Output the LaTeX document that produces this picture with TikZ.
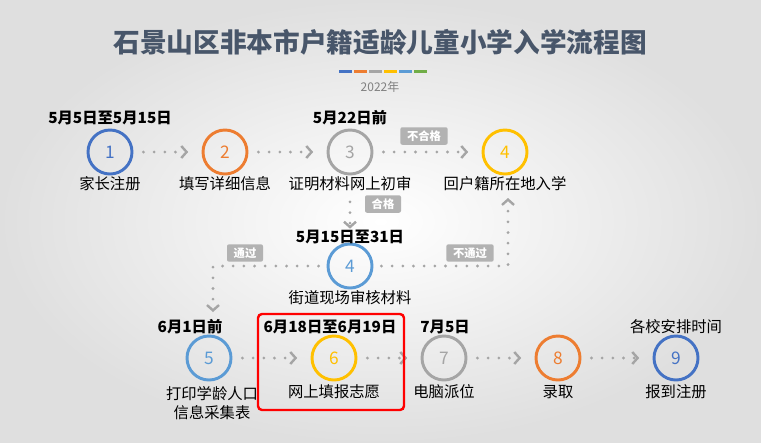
\documentclass[tikz,border=0pt]{standalone}
\usepackage{fontspec}
\setmainfont{Noto Sans CJK SC}
\usetikzlibrary{arrows.meta}
\definecolor{cblue}{RGB}{68,114,196}
\definecolor{corange}{RGB}{237,125,49}
\definecolor{cgray}{RGB}{165,165,165}
\definecolor{cyellow}{RGB}{255,192,0}
\definecolor{clblue}{RGB}{91,155,213}
\definecolor{cgreen}{RGB}{112,173,71}
\definecolor{ctitle}{RGB}{72,86,106}
\tikzset{
  step/.style={circle,draw=#1,line width=2.2pt,minimum size=33pt,inner sep=0pt,
    text=#1,font=\fontsize{13}{13}\selectfont},
  lab/.style={font=\fontsize{11.5}{14}\selectfont,align=center},
  date/.style={font=\bfseries\fontsize{11.5}{13}\selectfont},
  badge/.style={fill=cgray!85,text=white,rounded corners=1.5pt,inner xsep=5pt,inner ysep=2.5pt,
    font=\bfseries\fontsize{8.5}{9}\selectfont},
  flow/.style={cgray,line width=2.3pt,dash pattern=on 0pt off 8pt,line cap=round,
    -{Straight Barb[length=4pt,width=9pt,line width=1.8pt,line cap=butt]}}
}
\begin{document}
\begin{tikzpicture}[x=0.75pt,y=-0.75pt]
\useasboundingbox (0,0) rectangle (761,443);
\shade[inner color=white,outer color=gray!25] (0,0) rectangle (761,443);

%%%% Title
\node[text=ctitle,font=\bfseries\fontsize{20}{20}\selectfont] (title) at (380,42) {石景山区非本市户籍适龄儿童小学入学流程图};
\foreach \c [count=\i] in {cblue,corange,cgray,cyellow,clblue,cgreen}
  \fill[\c] (324+\i*15,69.5) rectangle ++(13,3);
\node[text=gray,font=\fontsize{9}{9}\selectfont] (year) at (380,87) {2022年};

%%%% First row
\node[step=cblue] (s1) at (110,152) {1};
\node[step=corange] (s2) at (225,152) {2};
\node[step=cgray] (s3) at (350,152) {3};
\node[step=cyellow] (s4) at (505,152) {4};
\node[date] at (110,118) {5月5日至5月15日};
\node[date] at (350,118) {5月22日前};
\node[lab] (l1) at (110,184) {家长注册};
\node[lab] (l2) at (225,184) {填写详细信息};
\node[lab] (l3) at (350,184) {证明材料网上初审};
\node[lab] (l4) at (505,184) {回户籍所在地入学};
\draw[flow] (s1.east) ++(10,0) -- ([xshift=-10pt]s2.west);
\draw[flow] (s2.east) ++(10,0) -- ([xshift=-10pt]s3.west);
\draw[flow] (s3.east) ++(10,0) -- ([xshift=-10pt]s4.west);
\node[badge] at (424,136) {不合格};

%%%% Street check
\node[step=clblue] (t4) at (350,266) {4};
\node[date] at (350,237) {5月15日至31日};
\node[lab] (lt4) at (350,298) {街道现场审核材料};
\draw[flow] (l3.south) ++(0,6) -- ([yshift=-2pt]350,226);
\node[badge] at (383,204) {合格};
\coordinate (cl) at (213,266);
\coordinate (cr) at (508,266);
\draw[flow] (t4.west) ++(-8,0) -- (cl) -- (213,312);
\draw[flow] (t4.east) ++(8,0) -- (cr) -- (508,198);
\node[badge] at (245,253) {通过};
\node[badge] at (470,253) {不通过};

%%%% Last row
\node[step=clblue] (s5) at (209,358) {5};
\node[step=cyellow] (s6) at (334,358) {6};
\node[step=cgray] (s7) at (444,358) {7};
\node[step=corange] (s8) at (558,358) {8};
\node[step=cblue] (s9) at (676,358) {9};
\node[date] at (190,327) {6月1日前};
\node[date] at (330,327) {6月18日至6月19日};
\node[date] at (445,327) {7月5日};
\node[lab] at (676,327) {各校安排时间};
\node[lab,anchor=north] at (212,382) {打印学龄人口\\信息采集表};
\node[lab] at (334,392) {网上填报志愿};
\node[lab] at (444,392) {电脑派位};
\node[lab] at (558,392) {录取};
\node[lab] at (676,392) {报到注册};
\foreach \a/\b in {s5/s6,s6/s7,s7/s8,s8/s9}
  \draw[flow] (\a.east) ++(10,0) -- ([xshift=-10pt]\b.west);
\draw[red,line width=1.8pt,rounded corners=3pt] (258,314) rectangle (404,410);
\end{tikzpicture}
\end{document}
